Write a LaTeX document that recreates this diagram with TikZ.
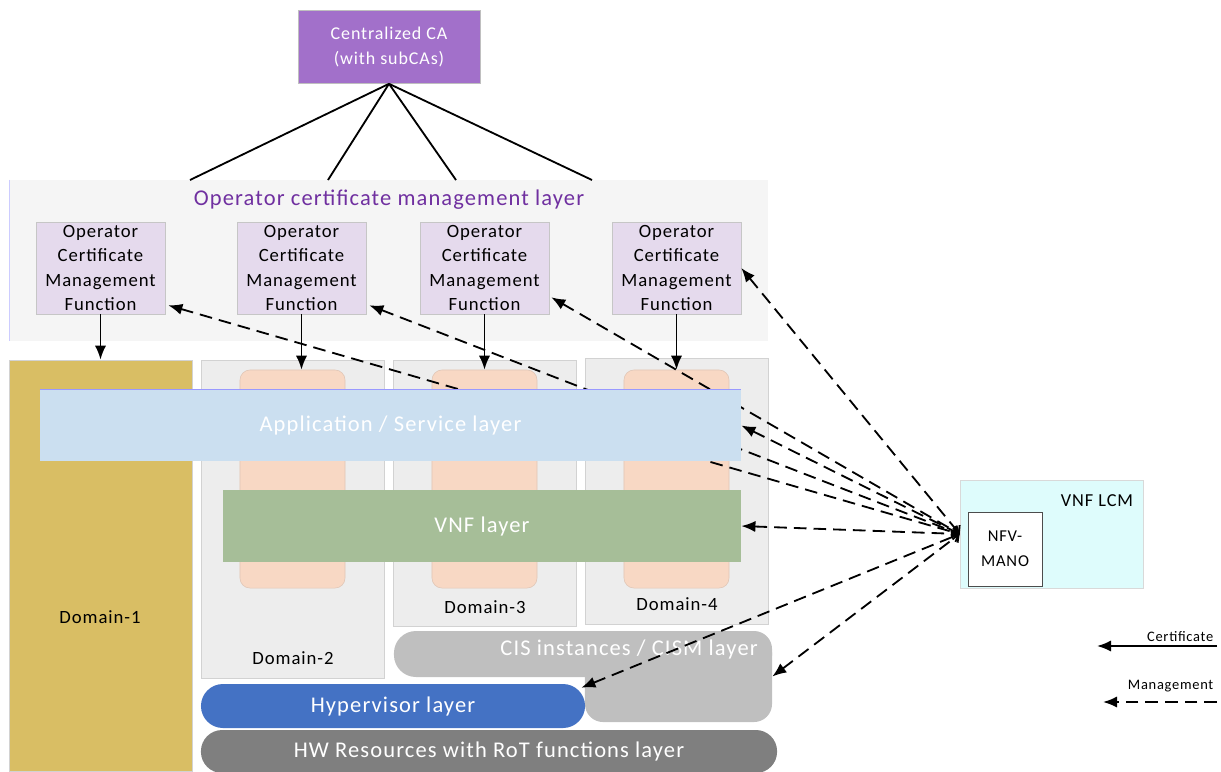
\documentclass[tikz,border=0pt]{standalone}
\usepackage{xcolor}
\usepackage{fontspec}
\setmainfont[LetterSpace=5]{Carlito}
\usepackage{tikz}
\usetikzlibrary{arrows.meta, positioning, calc}
\definecolor{ca-purple}{RGB}{162,112,202}
\definecolor{op-purple}{RGB}{112,48,160}
\definecolor{ocmf-fill}{RGB}{229,218,237}
\definecolor{dom1-gold}{RGB}{217,190,100}
\definecolor{dom-gray}{RGB}{237,237,237}
\definecolor{pink-fill}{RGB}{248,216,196}
\definecolor{app-blue}{RGB}{203,223,240}
\definecolor{vnf-green}{RGB}{166,190,152}
\definecolor{cis-gray}{RGB}{191,191,191}
\definecolor{hyp-blue}{RGB}{68,114,196}
\definecolor{hw-gray}{RGB}{127,127,127}
\definecolor{lcm-cyan}{RGB}{222,252,252}

\begin{document}
\begin{tikzpicture}[
    x=0.025cm, y=-0.025cm,
    box/.style={rectangle, inner sep=0pt, align=center},
    ocmf/.style={box, draw=gray!45, fill=ocmf-fill, minimum width=3.225cm, minimum height=2.3cm, font=\fontsize{13.3}{17.5}\selectfont},
    domainbox/.style={box, draw=gray!35, fill=dom-gray, minimum width=4.575cm},
    pod/.style={box, draw=pink-fill!80!gray, fill=pink-fill, rounded corners=0.25cm, minimum width=2.625cm, minimum height=5.45cm},
    layer/.style={box, text=white, font=\fontsize{16}{19}\selectfont},
    domlabel/.style={font=\fontsize{13.3}{16}\selectfont},
    cert/.style={line width=1.3pt, -{Latex[length=10pt, width=8pt]}},
    mgmt/.style={line width=1.3pt, dash pattern=on 9pt off 5pt, {Latex[length=10pt, width=8pt]}-{Straight Barb[length=4pt, width=8pt]}}
]
\useasboundingbox (0,0) rectangle (1221,771);

% Operator layer and CA
\node[box, fill=black!4, minimum width=18.95cm, minimum height=4.025cm] (op-layer) at (389,260.5) {};
\draw[blue!20, line width=1pt] (op-layer.north west) -- (op-layer.south west);
\node[text=op-purple, font=\fontsize{16}{20}\selectfont] (op-title) at (389,200) {Operator certificate management layer};
\node[box, fill=ca-purple, draw=gray!50, text=white, minimum width=4.55cm, minimum height=1.825cm, font=\fontsize{12.8}{17.5}\selectfont] (ca) at (389,47) {Centralized CA\\(with subCAs)};
\coordinate (ca-t1) at (190,180);
\coordinate (ca-t2) at (328,180);
\coordinate (ca-t3) at (456,180);
\coordinate (ca-t4) at (592,180);
\foreach \t in {1,...,4}
    \draw[line width=1.3pt] (ca.south) -- (ca-t\t);

\node[ocmf] (ocmf1) at (100.5,268) {Operator\\Certificate\\Management\\Function};
\node[ocmf] (ocmf2) at (301.5,268) {Operator\\Certificate\\Management\\Function};
\node[ocmf] (ocmf3) at (484.5,268) {Operator\\Certificate\\Management\\Function};
\node[ocmf] (ocmf4) at (676.5,268) {Operator\\Certificate\\Management\\Function};

% Domains
\node[domainbox, fill=dom1-gold, minimum height=10.275cm] (dom1) at (100.5,565.5) {};
\node[domlabel] at (100,617) {Domain-1};
\node[domainbox, minimum height=7.95cm] (dom2) at (292.5,519) {};
\node[domainbox, minimum height=6.65cm] (dom3) at (484.5,493) {};
\node[domainbox, minimum height=6.65cm] (dom4) at (676.5,491) {};
\node[pod] (pod2) at (292.5,479) {};
\node[pod] (pod3) at (484.5,479) {};
\node[pod] (pod4) at (676.5,479) {};
\node[domlabel] at (293,658) {Domain-2};
\node[domlabel] at (485,607) {Domain-3};
\node[domlabel] at (677,604) {Domain-4};

% VNF LCM
\node[box, draw=gray!30, fill=lcm-cyan, minimum width=4.575cm, minimum height=2.7cm] (lcm) at (1051.5,534) {};
\node[font=\fontsize{13}{15}\selectfont] (lcm-title) at (1097,501) {VNF LCM};
\node[box, draw=black!70, fill=white, minimum width=1.85cm, minimum height=1.85cm, font=\fontsize{11.8}{17.5}\selectfont] (mano) at (1005,549) {NFV-\\MANO};

% management of the OCMFs (behind the application layer)
\draw[mgmt] ([shift={(3,-9)}]ocmf1.south east) -- (lcm.west);
\draw[mgmt] ([shift={(3,-9)}]ocmf2.south east) -- (lcm.west);
\draw[mgmt] ([shift={(2,-17)}]ocmf3.south east) -- (lcm.west);
\draw[mgmt] (ocmf4.east) -- (lcm.west);

% Layers
\node[layer, fill=app-blue, minimum width=17.525cm, minimum height=1.775cm] (app) at (390.5,425.5) {Application / Service layer};
\draw[blue!40, line width=1pt] (app.north west) -- (app.north east);
\node[layer, fill=vnf-green, minimum width=12.95cm, minimum height=1.8cm] (vnf) at (482,526) {VNF layer};
\node[box, fill=cis-gray, rounded corners=0.55cm, minimum width=9.45cm, minimum height=1.15cm] (cis) at (583,654) {};
\node[box, fill=cis-gray, rounded corners=0.45cm, minimum width=4.675cm, minimum height=2.275cm] (cis-r) at (678.5,676.5) {};
\node[layer, anchor=east] (cis-txt) at (758,649) {CIS instances / CISM layer};
\node[layer, fill=hyp-blue, rounded corners=0.55cm, minimum width=9.6cm, minimum height=1.1cm] (hyp) at (393,706) {Hypervisor layer};
\node[layer, fill=hw-gray, rounded corners=0.53cm, minimum width=14.4cm, minimum height=1.075cm] (hw) at (489,751.5) {HW Resources with RoT functions layer};

% Certificates
\draw[cert] (ocmf1.south) -- (ocmf1.south |- dom1.north);
\draw[cert] (ocmf2.south) -- (ocmf2.south |- pod2.north);
\draw[cert] (ocmf3.south) -- (ocmf3.south |- pod3.north);
\draw[cert] (ocmf4.south) -- (ocmf4.south |- pod4.north);

% Management of the layers
\draw[mgmt] (app.east) -- (lcm.west);
\draw[mgmt] (vnf.east) -- (lcm.west);
\draw[mgmt] ([shift={(-4,4)}]hyp.north east) -- (lcm.west);
\draw[mgmt] (cis-r.east) -- (lcm.west);

% Legend
\coordinate (leg-c1) at (1217,646);
\coordinate (leg-c2) at (1097,646);
\coordinate (leg-m1) at (1217,702);
\coordinate (leg-m2) at (1103,702);
\draw[cert] (leg-c1) -- (leg-c2);
\draw[line width=1.3pt, dash pattern=on 9pt off 5pt, -{Latex[length=10pt, width=8pt]}] (leg-m1) -- (leg-m2);
\node[anchor=south east, inner sep=1pt, font=\fontsize{10.3}{12}\selectfont] (leg-cert) at (1215,643) {Certificate};
\node[anchor=south east, inner sep=1pt, font=\fontsize{10.3}{12}\selectfont] (leg-mgmt) at (1215,694) {Management};

\end{tikzpicture}
\end{document}
